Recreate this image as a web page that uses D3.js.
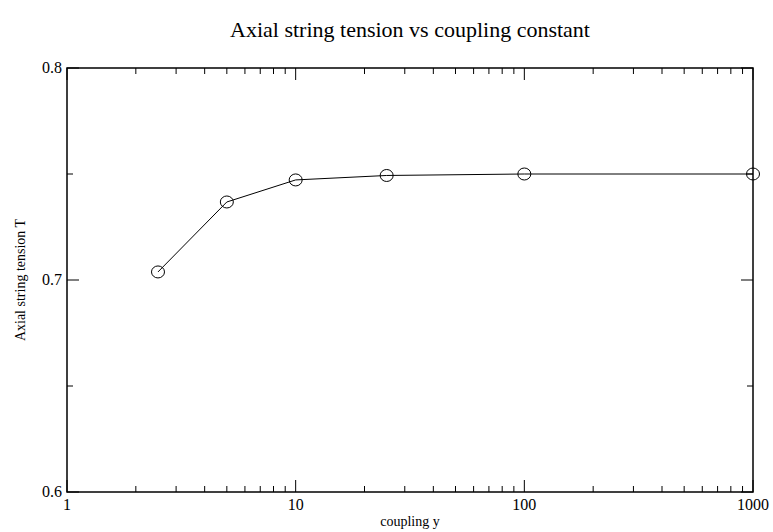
<!DOCTYPE html>
<html>
<head>
<meta charset="utf-8">
<script src="https://cdn.jsdelivr.net/npm/d3@7"></script>
<style>
  html, body { margin: 0; padding: 0; background: #fff; }
  svg text { font-family: "Liberation Serif", "DejaVu Serif", serif; fill: #000; }
</style>
</head>
<body>
<div id="chart"></div>
<script>
// data
const couplings = [2.5, 5, 10, 25, 100, 1000];
const tensions = [0.7038, 0.7368, 0.7472, 0.7493, 0.7500, 0.7500];
const xTickValues = [1, 10, 100, 1000];
const yTickValues = [0.6, 0.7, 0.8];
const yMinorValues = [0.65, 0.75];

const width = 773, height = 532;
const margin = { top: 68, right: 20, bottom: 40, left: 67 };
const innerW = 753 - margin.left;
const innerH = 492 - margin.top;

const svg = d3.select('#chart')
  .append('svg')
  .attr('width', width)
  .attr('height', height);

const g = svg.append('g')
  .attr('transform', `translate(${margin.left},${margin.top})`);

const x = d3.scaleLog().domain([1, 1000]).range([0, innerW]);
const y = d3.scaleLinear().domain([0.6, 0.8]).range([innerH, 0]);

// minor ticks for the log axis: 2..9 in each decade
const xMinor = [];
[1, 10, 100].forEach(d => {
  for (let k = 2; k <= 9; k++) xMinor.push(d * k);
});

const fmt = d3.format('.1f');

function tickLines(sel, vals, len, pos) {
  // pos: 'bottom' | 'top' | 'left' | 'right' - ticks point inward
  sel.selectAll(null)
    .data(vals)
    .enter()
    .append('line')
    .attr('x1', d => (pos === 'bottom' || pos === 'top') ? x(d) : (pos === 'left' ? 0 : innerW))
    .attr('x2', d => (pos === 'bottom' || pos === 'top') ? x(d) : (pos === 'left' ? len : innerW - len))
    .attr('y1', d => (pos === 'left' || pos === 'right') ? y(d) : (pos === 'bottom' ? innerH : 0))
    .attr('y2', d => (pos === 'left' || pos === 'right') ? y(d) : (pos === 'bottom' ? innerH - len : len))
    .attr('stroke', '#000')
    .attr('stroke-width', 1);
}

const ticks = g.append('g').attr('class', 'ticks');
tickLines(ticks, xTickValues, 12, 'bottom');
tickLines(ticks, xTickValues, 12, 'top');
tickLines(ticks, xMinor, 6, 'bottom');
tickLines(ticks, xMinor, 6, 'top');
tickLines(ticks, yTickValues, 12, 'left');
tickLines(ticks, yTickValues, 12, 'right');
tickLines(ticks, yMinorValues, 6, 'left');
tickLines(ticks, yMinorValues, 6, 'right');

// frame
g.append('rect')
  .attr('x', 0)
  .attr('y', 0)
  .attr('width', innerW)
  .attr('height', innerH)
  .attr('fill', 'none')
  .attr('stroke', '#000')
  .attr('stroke-width', 1.5);

// tick labels
g.selectAll('.xlabel')
  .data(xTickValues)
  .enter()
  .append('text')
  .attr('class', 'xlabel')
  .attr('x', d => x(d))
  .attr('y', innerH + 18)
  .attr('text-anchor', 'middle')
  .style('font-size', '16px')
  .text(d => d);

g.selectAll('.ylabel')
  .data(yTickValues)
  .enter()
  .append('text')
  .attr('class', 'ylabel')
  .attr('x', -5)
  .attr('y', d => y(d) + 5)
  .attr('text-anchor', 'end')
  .style('font-size', '16px')
  .text(d => fmt(d));

// series line
const line = d3.line()
  .x(d => x(d[0]))
  .y(d => y(d[1]));

const pts = couplings.map((c, i) => [c, tensions[i]]);

g.append('path')
  .datum(pts)
  .attr('d', line)
  .attr('fill', 'none')
  .attr('stroke', '#000')
  .attr('stroke-width', 1);

g.selectAll('.pt')
  .data(pts)
  .enter()
  .append('ellipse')
  .attr('class', 'pt')
  .attr('cx', d => x(d[0]))
  .attr('cy', d => y(d[1]))
  .attr('rx', 6.5)
  .attr('ry', 6)
  .attr('fill', 'none')
  .attr('stroke', '#000')
  .attr('stroke-width', 1);

// titles
svg.append('text')
  .attr('x', 410)
  .attr('y', 37)
  .attr('text-anchor', 'middle')
  .style('font-size', '22px')
  .text('Axial string tension vs coupling constant');

svg.append('text')
  .attr('x', 410)
  .attr('y', 526)
  .attr('text-anchor', 'middle')
  .style('font-size', '14px')
  .text('coupling y');

svg.append('text')
  .attr('transform', 'translate(25,280) rotate(-90)')
  .attr('text-anchor', 'middle')
  .style('font-size', '14px')
  .text('Axial string tension T');
</script>
</body>
</html>
